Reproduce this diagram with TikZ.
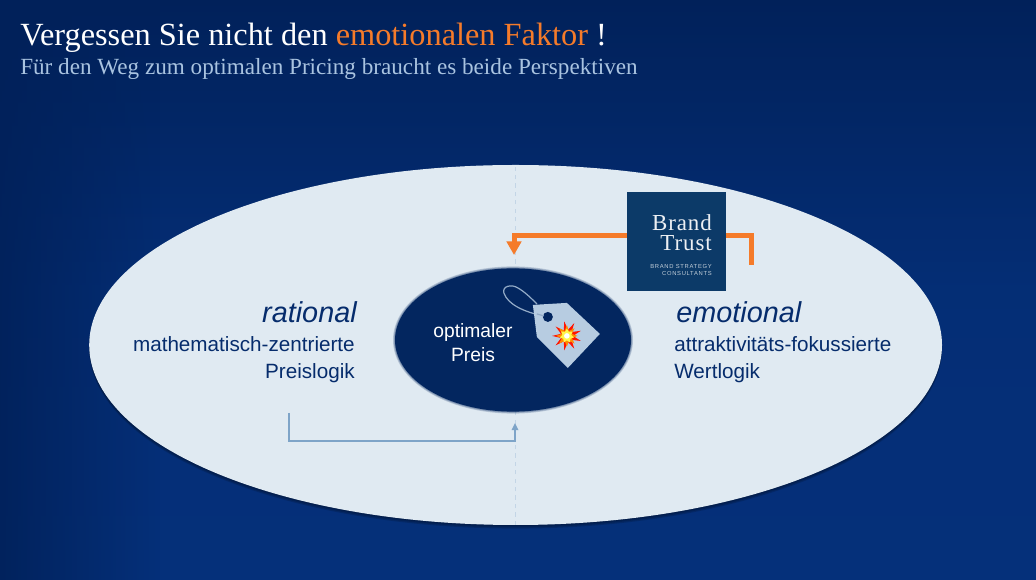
\documentclass[tikz,border=0pt]{standalone}
\usepackage{fontspec}
\setmainfont{Liberation Serif}
\setsansfont{Liberation Sans}
\newfontfamily\logosmall[LetterSpace=12]{Liberation Sans}
\newfontfamily\logoserif[LetterSpace=4]{Liberation Serif}
\usetikzlibrary{arrows.meta,fadings,shapes.geometric}
\definecolor{navy}{HTML}{03265F}
\definecolor{deepblue}{HTML}{01215A}
\definecolor{midblue}{HTML}{05307A}
\definecolor{paleblue}{HTML}{E0EAF2}
\definecolor{inkblue}{HTML}{062C6C}
\definecolor{logoblue}{HTML}{0C3A68}
\definecolor{signal}{HTML}{F57B2A}
\definecolor{subtitleblue}{HTML}{A9C3E0}
\definecolor{logikblue}{HTML}{7EA4C8}
\definecolor{tagblue}{HTML}{B7CCE1}
\tikzset{
	headline/.style={anchor=base west, inner sep=0, font=\fontsize{23}{26}\selectfont},
	bigword/.style={inner sep=0, text=inkblue, font=\sffamily\itshape\fontsize{20.5}{24}\selectfont},
	logic/.style={inner sep=0, text=inkblue, font=\sffamily\fontsize{14.7}{17}\selectfont},
	pricetext/.style={anchor=base, inner sep=0, text=white, font=\sffamily\fontsize{13.7}{16}\selectfont},
	logotext/.style={anchor=base east, inner sep=0, text=white!92!logoblue, font=\logoserif\fontsize{16.3}{18}\selectfont},
	logosub/.style={anchor=base east, inner sep=0, text=white!75!logoblue, font=\logosmall\fontsize{4.15}{5}\selectfont},
	signalline/.style={draw=signal, line width=0.125cm, line join=miter},
	logikline/.style={draw=logikblue, line width=0.05cm}
}
\begin{document}
\begin{tikzpicture}
	%%%%% BACKGROUND %%%%%
	\useasboundingbox (0, 0) rectangle (25.9, 14.5);
	\shade[top color=deepblue, bottom color=midblue, middle color=midblue!85!deepblue] (0, 0) rectangle (25.9, 14.5);
	\fill[deepblue, path fading=east, fill opacity=0.9] (0, 0) rectangle (4, 14.5);
	
	%%%%% ELLIPSES %%%%%
	\foreach \drop in {0.03, 0.06, 0.09}
		\fill[black!60!navy, opacity=0.22] (12.89, 5.875-\drop) ellipse (10.66 and 4.5);
	\fill[paleblue] (12.89, 5.875) ellipse (10.66 and 4.5);
	\draw[dashed, line width=0.025cm, color=tagblue!70!paleblue] (12.875, 1.375) -- (12.875, 10.375);
	\foreach \grow in {0.05, 0.03, 0.015}
		\fill[navy, opacity=0.2] (12.825, 6.0) ellipse [x radius=2.95+\grow, y radius=1.79+\grow];
	\fill[navy] (12.825, 6.0) ellipse (2.95 and 1.79);
	
	%%%%% TITLE %%%%%
	\node[headline, text=white] (title) at (0.5, 13.35) {Vergessen Sie nicht den \textcolor{signal}{emotionalen Faktor} !};
	\node[headline, text=subtitleblue, font=\fontsize{16.47}{19}\selectfont] (subtitle) at (0.5, 12.64) {Für den Weg zum optimalen Pricing braucht es beide Perspektiven};
	
	%%%%% LEFT SIDE %%%%%
	\node[bigword, anchor=base east] (rational) at (8.925, 6.425) {rational};
	\node[logic, anchor=base east] (mathe) at (8.875, 5.71) {mathematisch-zentrierte};
	\node[logic, anchor=base east] (preislogik) at (8.875, 5.03) {Preislogik};
	
	%%%%% RIGHT SIDE %%%%%
	\node[bigword, anchor=base west] (emotional) at (16.9, 6.425) {emotional};
	\node[logic, anchor=base west] (attrakt) at (16.85, 5.71) {attraktivitäts-fokussierte};
	\node[logic, anchor=base west] (wertlogik) at (16.85, 5.03) {Wertlogik};
	
	%%%%% PRICE %%%%%
	\node[pricetext] (optimaler) at (11.825, 6.05) {optimaler};
	\node[pricetext] (preis) at (11.825, 5.46) {Preis};
	
	%%%%% TAG %%%%%
	\begin{scope}[shift={(0, 14.5)}, x=0.025cm, y=-0.025cm]
		\draw[line width=0.03cm, color=tagblue!80!navy] (543, 316) .. controls (525, 312) and (508, 305) .. (504, 293) .. controls (502, 286) and (512, 284) .. (518, 288) .. controls (525, 292) and (531, 298) .. (537, 304);
		\fill[tagblue] (533, 305) -- (567, 303) -- (600, 334) -- (568, 368) -- (537, 337) -- cycle;
		\fill[navy] (548, 317) circle (5);
		\draw[line width=0.03cm, color=tagblue!80!navy] (537, 314) -- (544, 316);
		\node[star, star points=9, star point ratio=2.4, minimum size=0.74cm, inner sep=0, fill=red!85!orange, rotate=10] (burstred) at (567, 336) {};
		\node[star, star points=8, star point ratio=2.0, minimum size=0.54cm, inner sep=0, fill=orange!90!yellow] (burstorange) at (567, 336) {};
		\node[star, star points=7, star point ratio=1.6, minimum size=0.36cm, inner sep=0, fill=yellow!70!white] (burstyellow) at (567, 336) {};
		\node[circle, minimum size=0.14cm, inner sep=0, fill=white] (burstwhite) at (567, 336) {};
	\end{scope}
	
	%%%%% LOGO %%%%%
	\node[rectangle, minimum size=2.475cm, inner sep=0, fill=logoblue] (logo) at (16.91, 8.45) {};
	\node[logotext] (brand) at (17.8, 8.725) {Brand};
	\node[logotext] (trust) at (17.8, 8.23) {Trust};
	\node[logosub] (strategy) at (17.8, 7.775) {BRAND STRATEGY};
	\node[logosub] (consultants) at (17.8, 7.6) {CONSULTANTS};
	
	%%%%% CONNECTORS %%%%%
	\coordinate (pricein) at (12.85, 8.125);
	\coordinate (wertend) at (18.775, 7.875);
	\draw[signalline, -{Triangle[width=0.36cm, length=0.34cm]}] ([yshift=0.15cm]logo.west) -| (pricein);
	\draw[signalline] ([yshift=0.15cm]logo.east) -| (wertend);
	
	\coordinate (logikstart) at (7.225, 4.175);
	\coordinate (logikturn) at (12.875, 3.475);
	\coordinate (logikend) at (12.875, 3.925);
	\draw[logikline, -{Triangle[width=0.16cm, length=0.18cm]}] (logikstart) |- (logikturn) -- (logikend);
\end{tikzpicture}
\end{document}
